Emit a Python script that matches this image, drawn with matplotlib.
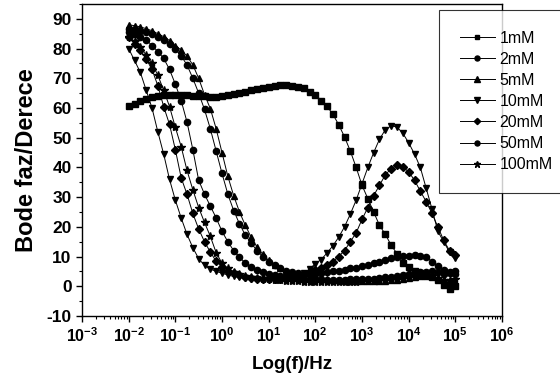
import numpy as np
import matplotlib
matplotlib.use("Agg")
import matplotlib.pyplot as plt
from matplotlib.ticker import FixedLocator, FixedFormatter, MultipleLocator, LogLocator, NullFormatter

plt.rcParams['font.family'] = ['Liberation Sans', 'DejaVu Sans']
plt.rcParams['mathtext.fontset'] = 'custom'
plt.rcParams['mathtext.bf'] = 'Liberation Sans:bold'
plt.rcParams['mathtext.rm'] = 'Liberation Sans:bold'
plt.rcParams['axes.unicode_minus'] = False

# measured frequencies (Hz), 8 points per decade
freq = [0.01, 0.01334, 0.01778, 0.02371, 0.03162, 0.04217, 0.05623, 0.07499,
        0.1, 0.1334, 0.1778, 0.2371, 0.3162, 0.4217, 0.5623, 0.7499,
        1.0, 1.334, 1.778, 2.371, 3.162, 4.217, 5.623, 7.499,
        10.0, 13.34, 17.78, 23.71, 31.62, 42.17, 56.23, 74.99,
        100.0, 133.4, 177.8, 237.1, 316.2, 421.7, 562.3, 749.9,
        1000.0, 1334.0, 1778.0, 2371.0, 3162.0, 4217.0, 5623.0, 7499.0,
        10000.0, 13340.0, 17780.0, 23710.0, 31620.0, 42170.0, 56230.0, 74990.0,
        100000.0]

phase_1mM = [60.6, 61.5, 62.3, 63.0, 63.6, 64.0, 64.3, 64.5, 64.5, 64.5, 64.3, 64.2,
             64.2, 64.0, 63.8, 63.8, 64.0, 64.3, 64.7, 65.1, 65.5, 65.9, 66.3, 66.7,
             67.1, 67.4, 67.6, 67.7, 67.5, 67.2, 66.6, 65.5, 64.5, 62.5, 60.6, 57.9,
             54.4, 50.3, 45.5, 40.0, 34.0, 29.5, 25.0, 20.5, 17.5, 13.8, 11.0, 8.0,
             6.5, 5.2, 4.5, 3.8, 3.0, 2.0, 0.5, -1.0, 0.0]
phase_2mM = [86.5, 86.3, 86.0, 85.5, 84.8, 84.0, 83.0, 81.5, 79.8, 77.5, 74.5, 70.0,
             65.0, 59.5, 53.0, 45.5, 38.0, 31.0, 25.5, 21.0, 17.2, 14.5, 12.0, 10.0,
             8.3, 7.0, 6.0, 5.3, 4.8, 4.5, 4.3, 4.3, 4.3, 4.5, 4.7, 5.0,
             5.3, 5.6, 6.0, 6.3, 6.7, 7.2, 7.8, 8.3, 8.9, 9.4, 9.8, 10.1,
             10.3, 10.4, 10.3, 10.0, 8.2, 6.8, 5.5, 4.6, 4.3]
phase_5mM = [88.0, 87.7, 87.3, 86.7, 86.0, 85.0, 84.0, 82.7, 81.0, 79.5, 77.5, 74.5,
             70.0, 64.5, 59.8, 53.0, 45.0, 37.0, 30.5, 25.0, 20.5, 16.5, 13.2, 10.7,
             8.7, 7.0, 6.0, 5.2, 4.5, 4.0, 3.6, 3.2, 2.9, 2.6, 2.4, 2.2,
             2.0, 1.9, 1.8, 1.8, 1.7, 1.7, 1.7, 1.8, 1.9, 2.0, 2.2, 2.4,
             2.7, 3.0, 3.3, 3.6, 3.4, 2.8, 2.0, 1.5, 1.5]
phase_10mM = [80.0, 76.0, 72.0, 66.0, 60.0, 52.0, 44.5, 36.0, 29.0, 23.0, 17.5, 13.0,
              9.3, 7.0, 5.8, 5.0, 4.4, 3.8, 3.3, 3.0, 2.7, 2.5, 2.3, 2.1,
              2.0, 2.1, 2.3, 2.7, 3.2, 3.8, 4.5, 5.8, 7.6, 9.0, 11.2, 13.6,
              16.5, 20.0, 24.3, 29.0, 34.5, 40.0, 45.0, 49.5, 52.7, 54.0, 53.6, 51.5,
              48.3, 44.5, 40.0, 33.0, 26.0, 18.5, 15.0, 11.5, 9.5]
phase_20mM = [84.0, 81.7, 79.5, 76.5, 73.0, 67.5, 60.5, 54.5, 46.0, 36.5, 31.0, 24.5,
              19.3, 15.0, 11.5, 8.4, 6.5, 5.3, 4.4, 3.7, 3.2, 2.8, 2.6, 2.4,
              2.3, 2.3, 2.5, 2.8, 3.2, 3.7, 4.2, 4.8, 5.5, 6.3, 7.0, 8.3,
              10.0, 12.0, 15.0, 18.0, 22.5, 26.5, 30.5, 34.0, 37.5, 39.6, 40.7, 40.2,
              38.5, 35.7, 32.0, 28.5, 24.5, 20.0, 15.5, 12.0, 10.5]
phase_50mM = [85.7, 85.0, 84.0, 83.0, 81.0, 79.0, 76.7, 73.0, 68.0, 62.5, 55.3, 46.0,
              35.7, 31.0, 27.0, 23.0, 18.5, 15.0, 12.0, 9.8, 7.8, 6.5, 5.5, 4.7,
              4.1, 3.7, 3.3, 3.0, 2.8, 2.6, 2.5, 2.4, 2.3, 2.3, 2.2, 2.2,
              2.2, 2.2, 2.3, 2.3, 2.4, 2.5, 2.6, 2.8, 3.0, 3.2, 3.5, 3.8,
              4.1, 4.4, 4.7, 4.9, 5.0, 4.8, 4.3, 4.8, 5.2]
phase_100mM = [84.0, 82.5, 80.5, 77.8, 75.0, 71.0, 66.0, 60.5, 53.5, 47.0, 39.0, 32.5,
               26.5, 21.5, 16.8, 11.3, 7.8, 6.0, 4.8, 4.0, 3.4, 3.0, 2.7, 2.5,
               2.3, 2.1, 2.0, 1.9, 1.8, 1.7, 1.6, 1.6, 1.5, 1.5, 1.5, 1.5,
               1.5, 1.5, 1.6, 1.6, 1.7, 1.8, 1.9, 2.0, 2.2, 2.4, 2.6, 2.8,
               3.0, 3.2, 3.4, 3.5, 3.3, 2.8, 2.2, 2.0, 2.5]

labels = ['1mM', '2mM', '5mM', '10mM', '20mM', '50mM', '100mM']
series = [phase_1mM, phase_2mM, phase_5mM, phase_10mM, phase_20mM, phase_50mM, phase_100mM]
markers = ['s', 'o', '^', 'v', 'D', 'o', '*']
msizes = [4.2, 4.5, 5.0, 5.0, 4.0, 4.5, 6.0]

fig = plt.figure(figsize=(5.6, 3.87), dpi=100)
ax = fig.add_axes([82/560, 1-316/387, 420/560, 312/387])

for y, lab, m, ms in zip(series, labels, markers, msizes):
    ax.plot(freq, y, color='black', lw=0.7, marker=m, ms=ms, mfc='black', mec='black', label=lab)

ax.set_xscale('log')
ax.set_xlim(1e-3, 1e6)
ax.set_ylim(-10, 95)

xt = [1e-3, 1e-2, 1e-1, 1e0, 1e1, 1e2, 1e3, 1e4, 1e5, 1e6]
xt_labels = [r'$\mathbf{10^{-3}}$', r'$\mathbf{10^{-2}}$', r'$\mathbf{10^{-1}}$', r'$\mathbf{10^{0}}$',
             r'$\mathbf{10^{1}}$', r'$\mathbf{10^{2}}$', r'$\mathbf{10^{3}}$', r'$\mathbf{10^{4}}$',
             r'$\mathbf{10^{5}}$', r'$\mathbf{10^{6}}$']
ax.xaxis.set_major_locator(FixedLocator(xt))
ax.xaxis.set_major_formatter(FixedFormatter(xt_labels))
ax.xaxis.set_minor_locator(LogLocator(base=10, subs=np.arange(2, 10), numticks=20))
ax.xaxis.set_minor_formatter(NullFormatter())
ax.yaxis.set_major_locator(MultipleLocator(10))
ax.yaxis.set_minor_locator(MultipleLocator(5))

ax.tick_params(which='major', direction='out', length=4, width=1)
ax.tick_params(which='minor', direction='out', length=2, width=0.8)
ax.tick_params(axis='x', labelsize=11.5)
ax.tick_params(axis='y', labelsize=12.5)
for lbl in ax.get_yticklabels():
    lbl.set_fontweight('bold')
for s in ax.spines.values():
    s.set_linewidth(1.0)

ax.set_xlabel('Log(f)/Hz', fontsize=13.5, fontweight='bold', labelpad=8)
ax.set_ylabel('Bode faz/Derece', fontsize=17, fontweight='bold', labelpad=6)

leg = fig.legend(loc='upper left', bbox_to_anchor=(439/560, 1-10/387, 0.3, 0.0), mode='expand',
                 fontsize=11.5, frameon=True, fancybox=False, edgecolor='black',
                 handlelength=2.2, labelspacing=0.38, borderpad=1.3, handletextpad=0.3,
                 borderaxespad=0, markerscale=0.8)
leg.get_frame().set_linewidth(0.8)

fig.savefig('out.png', dpi=100)
